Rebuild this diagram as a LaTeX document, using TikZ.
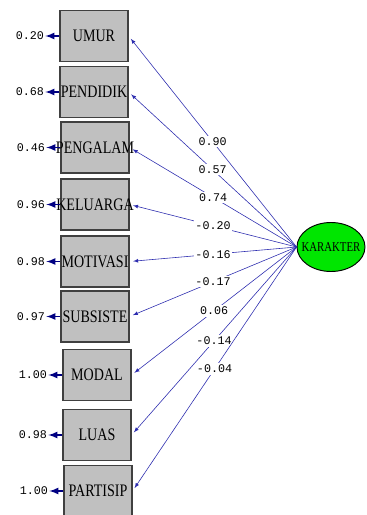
\documentclass[tikz,border=0pt]{standalone}
\usepackage{fontspec}
\usepackage{tikz}
\usetikzlibrary{positioning}
\usetikzlibrary{shapes.geometric}
\tikzset{>=latex}
\usepackage{xcolor}
\newfontfamily\boxfont[FakeStretch=0.8]{Liberation Serif}
\newfontfamily\numfont{Liberation Mono}
\definecolor{boxgray}{RGB}{192,192,192}
\definecolor{latgreen}{RGB}{0,230,0}
\definecolor{errcol}{RGB}{0,0,130}
\definecolor{pathcol}{RGB}{45,45,175}
\tikzstyle{obsbox}=[draw=black!75,fill=boxgray,line width=1pt,inner ysep=0pt,inner xsep=-5pt,
  minimum width=2.04cm,minimum height=1.53cm,font=\boxfont\fontsize{15}{15}\selectfont]
\tikzstyle{latentvar}=[ellipse,draw=black,fill=latgreen,line width=0.8pt,inner xsep=-8pt,inner ysep=-4pt,
  minimum width=2.04cm,minimum height=1.47cm,font=\boxfont\fontsize{11.5}{11.5}\selectfont]
\tikzstyle{errlab}=[font=\numfont\fontsize{10}{10}\selectfont,inner sep=1pt]
\tikzstyle{errarrow}=[->,errcol,line width=1.6pt]
\tikzstyle{loading}=[->,pathcol,line width=0.5pt,shorten >=3pt]
\tikzstyle{coef}=[fill=white,text=black,font=\numfont\fontsize{10}{10}\selectfont,inner sep=1.5pt]

\begin{document}
\begin{tikzpicture}[x=0.03cm,y=-0.03cm]
  \useasboundingbox (0,0) rectangle (366,515);
  \def\gap{0.42cm}

  % indicators
  \node[obsbox] (umur)     at (94,36)    {UMUR};
  \node[obsbox] (pendidik) at (94,92)    {PENDIDIK};
  \node[obsbox] (pengalam) at (95,147.5) {PENGALAM};
  \node[obsbox] (keluarga) at (95,204.5) {KELUARGA};
  \node[obsbox] (motivasi) at (95,261.5) {MOTIVASI};
  \node[obsbox] (subsiste) at (95,316.5) {SUBSISTE};
  \node[obsbox] (modal)    at (97,375)   {MODAL};
  \node[obsbox] (luas)     at (97,435)   {LUAS};
  \node[obsbox] (partisip) at (98,491)   {PARTISIP};

  % latent
  \node[latentvar] (karakter) at (331,247) {KARAKTER};

  % error variances
  \node[errlab] (e1) [left=\gap of umur]     {0.20};
  \node[errlab] (e2) [left=\gap of pendidik] {0.68};
  \node[errlab] (e3) [left=\gap of pengalam] {0.46};
  \node[errlab] (e4) [left=\gap of keluarga] {0.96};
  \node[errlab] (e5) [left=\gap of motivasi] {0.98};
  \node[errlab] (e6) [left=\gap of subsiste] {0.97};
  \node[errlab] (e7) [left=\gap of modal]    {1.00};
  \node[errlab] (e8) [left=\gap of luas]     {0.98};
  \node[errlab] (e9) [left=\gap of partisip] {1.00};
  \draw[errarrow] (umur) -- (e1);
  \draw[errarrow] (pendidik) -- (e2);
  \draw[errarrow] (pengalam) -- (e3);
  \draw[errarrow] (keluarga) -- (e4);
  \draw[errarrow] (motivasi) -- (e5);
  \draw[errarrow] (subsiste) -- (e6);
  \draw[errarrow] (modal) -- (e7);
  \draw[errarrow] (luas) -- (e8);
  \draw[errarrow] (partisip) -- (e9);

  % loadings
  \draw[loading] (karakter.west) -- node[coef] {0.90}  (umur.east);
  \draw[loading] (karakter.west) -- node[coef] {0.57}  (pendidik.east);
  \draw[loading] (karakter.west) -- node[coef] {0.74}  (pengalam.east);
  \draw[loading] (karakter.west) -- node[coef] {-0.20} (keluarga.east);
  \draw[loading] (karakter.west) -- node[coef] {-0.16} (motivasi.east);
  \draw[loading] (karakter.west) -- node[coef] {-0.17} (subsiste.east);
  \draw[loading] (karakter.west) -- node[coef] {0.06}  (modal.east);
  \draw[loading] (karakter.west) -- node[coef] {-0.14} (luas.east);
  \draw[loading] (karakter.west) -- node[coef] {-0.04} (partisip.east);
\end{tikzpicture}
\end{document}
